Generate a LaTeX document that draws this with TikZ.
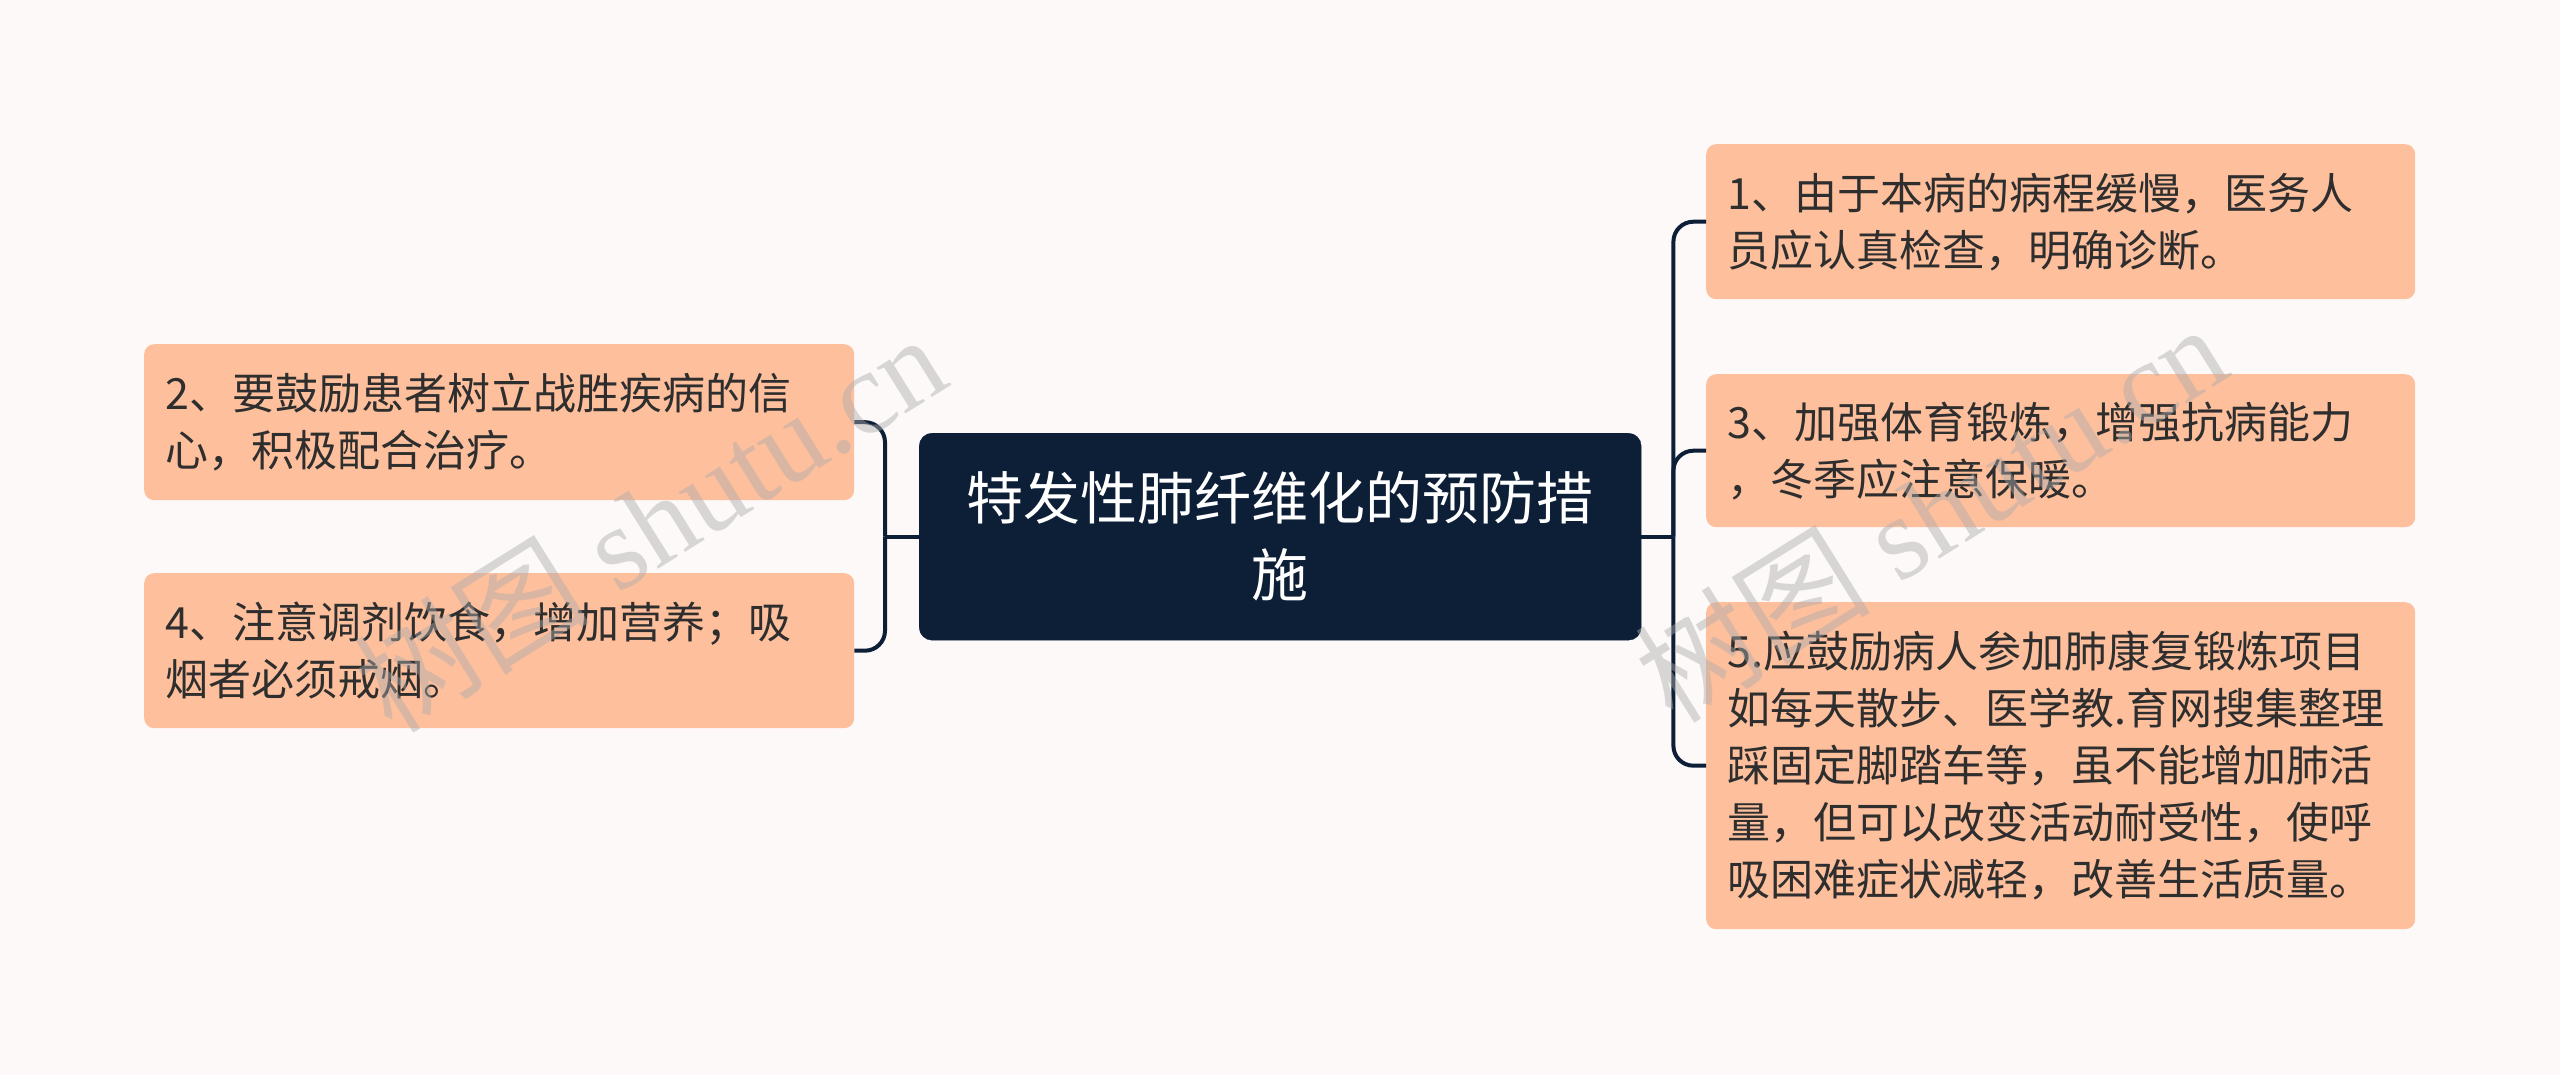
\documentclass[tikz,border=0pt]{standalone}
\usepackage{fontspec}
\setmainfont{Liberation Serif}
\newfontfamily\cjk{Noto Sans CJK SC}
\usetikzlibrary{calc}
\definecolor{bgc}{HTML}{FCF9F8}
\definecolor{peach}{HTML}{FDBF9C}
\definecolor{navy}{HTML}{0D1E37}
\definecolor{txt}{HTML}{2E2E2E}
\tikzset{
  leaf/.style={fill=peach, rounded corners=10pt, anchor=north west, minimum width=709pt,
    text width=667pt, inner xsep=21pt, inner ysep=0pt, align=left, text=txt,
    font=\cjk\fontsize{43}{57}\selectfont},
  root/.style={fill=navy, draw=navy, rounded corners=13pt, anchor=north west, minimum width=722pt,
    minimum height=207pt, align=center, text=white, font=\cjk\fontsize{57}{77}\selectfont},
  conn/.style={draw=navy, line width=4pt, rounded corners=20pt},
  wmark/.style={rotate=32, text=gray!65, opacity=0.45, font=\fontsize{118}{128}\selectfont}
}
\begin{document}
\begin{tikzpicture}[x=1pt,y=-1pt]
\fill[bgc] (0,0) rectangle (2560,1075);
\useasboundingbox (0,0) rectangle (2560,1075);

\node[root] (c) at (919,433) {特发性肺纤维化的预防措\\施};

\node[leaf, minimum height=155pt] (n1) at (1706,144) {1、由于本病的病程缓慢，医务人\\员应认真检查，明确诊断。};
\node[leaf, minimum height=153pt] (n3) at (1706,374) {3、加强体育锻炼，增强抗病能力\\，冬季应注意保暖。};
\node[leaf, minimum height=327pt] (n5) at (1706,602) {5.应鼓励病人参加肺康复锻炼项目\\如每天散步、医学教.育网搜集整理\\踩固定脚踏车等，虽不能增加肺活\\量，但可以改变活动耐受性，使呼\\吸困难症状减轻，改善生活质量。};

\node[leaf, minimum width=710pt, minimum height=156pt] (n2) at (144,344) {2、要鼓励患者树立战胜疾病的信\\心，积极配合治疗。};
\node[leaf, minimum width=710pt, minimum height=155pt] (n4) at (144,573) {4、注意调剂饮食，增加营养；吸\\烟者必须戒烟。};

\coordinate (rbus) at ($(c.east)+(32,0)$);
\coordinate (lbus) at ($(c.west)+(-34,0)$);
\draw[conn] (c.east) -- (rbus);
\draw[conn] (rbus) |- (n1.west);
\draw[conn] (rbus) |- (n3.west);
\draw[conn] (rbus) |- (n5.west);
\draw[conn] (c.west) -- (lbus);
\draw[conn] (lbus) |- (n2.east);
\draw[conn] (lbus) |- (n4.east);

\node[wmark] (wm1) at (649,522) {{\cjk 树图} shutu.cn};
\node[wmark] (wm2) at (1930,512) {{\cjk 树图} shutu.cn};
\end{tikzpicture}
\end{document}
